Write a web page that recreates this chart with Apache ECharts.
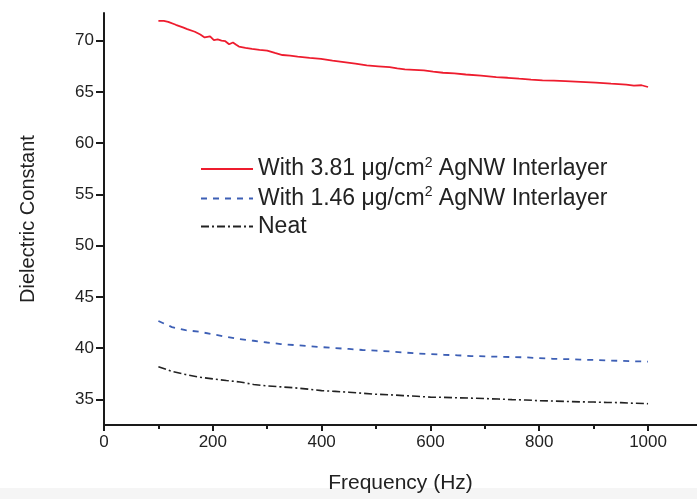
<!DOCTYPE html>
<html><head><meta charset="utf-8">
<script src="https://cdn.jsdelivr.net/npm/echarts@6/dist/echarts.min.js"></script>
<style>html,body{margin:0;padding:0;background:#fff}#c{width:697px;height:499px}</style>
</head><body><div id="c"></div>
<script>
const freq = [100,125,150,175,200,225,250,275,300,325,350,375,400,425,450,475,500,525,550,575,600,625,650,675,700,725,750,775,800,825,850,875,900,925,950,975,1000];
const redFreq = [100,110,118,132,145,153,167,177,185,195,202,209,216,223,230,237,243,248,260,272,286,300,314,328,342,356,378,399,420,441,462,483,504,525,539,553,570,588,605,623,644,665,693,721,742,763,785,806,827,848,876,904,932,960,974,988,1000];
const red = [71.94,71.93,71.84,71.55,71.3,71.13,70.87,70.6,70.32,70.42,70.06,70.12,70.0,69.95,69.65,69.82,69.6,69.42,69.3,69.19,69.1,69.03,68.8,68.6,68.55,68.45,68.33,68.23,68.05,67.9,67.75,67.58,67.5,67.42,67.3,67.19,67.15,67.1,66.98,66.87,66.8,66.7,66.58,66.45,66.38,66.29,66.2,66.13,66.1,66.06,65.98,65.9,65.8,65.71,65.61,65.65,65.48];
const blue = [42.65,42.05,41.75,41.6,41.35,41.1,40.87,40.72,40.55,40.4,40.3,40.2,40.1,40.0,39.92,39.82,39.75,39.68,39.58,39.48,39.42,39.35,39.3,39.23,39.2,39.16,39.13,39.1,39.02,38.96,38.93,38.88,38.85,38.8,38.76,38.72,38.68];
const black = [38.19,37.72,37.43,37.17,37.0,36.84,36.7,36.45,36.32,36.22,36.13,36.0,35.85,35.78,35.7,35.6,35.5,35.45,35.37,35.3,35.22,35.2,35.15,35.12,35.08,35.03,34.98,34.94,34.87,34.84,34.8,34.76,34.74,34.7,34.68,34.62,34.58];
const xTicks = [0,200,400,600,800,1000];
const yTicks = [35,40,45,50,55,60,65,70];
const names = ['With 3.81 μg/cm2 AgNW Interlayer','With 1.46 μg/cm2 AgNW Interlayer','Neat'];
const legendRich = {
  'With 3.81 μg/cm2 AgNW Interlayer': '{a|With 3.81 μg/cm}{s|2}{a| AgNW Interlayer}',
  'With 1.46 μg/cm2 AgNW Interlayer': '{a|With 1.46 μg/cm}{s|2}{a| AgNW Interlayer}',
  'Neat': '{a|Neat}'
};
const pairs = (xs, v) => xs.map((f,i)=>[f,v[i]]);
const font = 'Liberation Sans, Arial, sans-serif';
const chart = echarts.init(document.getElementById('c'));
chart.setOption({
  animation:false,
  backgroundColor:'#fff',
  graphic:[{type:'rect',shape:{x:0,y:488,width:697,height:11},style:{fill:'#f5f5f5'},silent:true,z:-10}],
  grid:{left:104,top:13,right:0,bottom:70,containLabel:false},
  xAxis:{type:'value',min:0,max:1090,interval:200,
    axisLine:{show:true,lineStyle:{color:'#1a1a1a',width:2}},
    axisTick:{show:true,length:6,inside:false,lineStyle:{color:'#1a1a1a',width:2},customValues:xTicks},
    minorTick:{show:true,splitNumber:2,length:4,lineStyle:{color:'#1a1a1a',width:2}},
    splitLine:{show:false},
    axisLabel:{color:'#222',fontSize:17,fontFamily:font,margin:9,customValues:xTicks,formatter:v=>String(v)},
    name:'Frequency (Hz)',nameLocation:'middle',nameGap:48,
    nameTextStyle:{color:'#222',fontSize:21,fontFamily:font}},
  yAxis:{type:'value',min:32.5,max:72.7,interval:5,
    axisLine:{show:true,lineStyle:{color:'#1a1a1a',width:2}},
    axisTick:{show:true,length:8,lineStyle:{color:'#1a1a1a',width:2},customValues:yTicks},
    minorTick:{show:true,splitNumber:2,length:4,lineStyle:{color:'#1a1a1a',width:2}},
    splitLine:{show:false},
    axisLabel:{color:'#222',fontSize:17,fontFamily:font,margin:10,customValues:yTicks},
    name:'Dielectric Constant',nameLocation:'middle',nameGap:66,
    nameTextStyle:{color:'#222',fontSize:20,fontFamily:font}},
  legend:{orient:'vertical',left:195,top:151,itemWidth:52,itemHeight:20,itemGap:5,
    data:names,
    itemStyle:{opacity:0},
    formatter:n=>legendRich[n],
    textStyle:{color:'#222',fontFamily:font,fontSize:23,
      rich:{a:{fontSize:23,fontFamily:font,color:'#222',lineHeight:22},
            s:{fontSize:14,fontFamily:font,color:'#222',padding:[0,0,12,0]}}}},
  series:[
    {name:names[0],type:'line',data:pairs(redFreq,red),showSymbol:false,symbol:'none',
     lineStyle:{color:'#ee1c2e',width:1.8},itemStyle:{color:'#ee1c2e'}},
    {name:names[1],type:'line',data:pairs(freq,blue),showSymbol:false,symbol:'none',
     lineStyle:{color:'#3d5fb5',width:1.8,type:[6,6]},itemStyle:{color:'#3d5fb5'}},
    {name:names[2],type:'line',data:pairs(freq,black),showSymbol:false,symbol:'none',
     lineStyle:{color:'#222',width:1.6,type:[8,3,2,3]},itemStyle:{color:'#222'}}
  ]
});
</script></body></html>
